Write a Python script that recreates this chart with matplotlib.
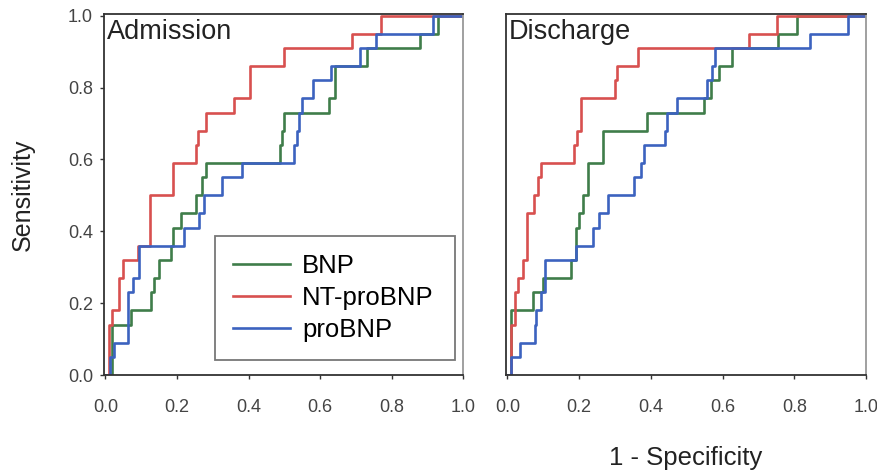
import matplotlib
matplotlib.use('Agg')
import matplotlib.pyplot as plt

# ROC step points (1 - specificity, sensitivity) for each marker
adm_bnp_fpr = [0, 0.017, 0.072, 0.128, 0.135, 0.15, 0.184, 0.19, 0.21, 0.254, 0.27, 0.28,
               0.487, 0.493, 0.50, 0.625, 0.643, 0.73, 0.88, 0.93, 1.0]
adm_bnp_tpr = [0, 0.14, 0.18, 0.23, 0.27, 0.32, 0.36, 0.41, 0.45, 0.5, 0.55, 0.59,
               0.64, 0.68, 0.73, 0.77, 0.86, 0.91, 0.95, 1.0, 1.0]

adm_nt_fpr = [0, 0.01, 0.017, 0.038, 0.05, 0.09, 0.125, 0.19, 0.254, 0.26, 0.28, 0.36,
              0.405, 0.50, 0.69, 0.77, 1.0]
adm_nt_tpr = [0, 0.14, 0.18, 0.27, 0.32, 0.36, 0.5, 0.59, 0.64, 0.68, 0.73, 0.77,
              0.86, 0.91, 0.95, 1.0, 1.0]

adm_pro_fpr = [0, 0.012, 0.025, 0.063, 0.077, 0.095, 0.22, 0.262, 0.275, 0.327, 0.383,
               0.527, 0.536, 0.54, 0.55, 0.58, 0.63, 0.713, 0.755, 0.917, 1.0]
adm_pro_tpr = [0, 0.05, 0.09, 0.23, 0.27, 0.36, 0.41, 0.45, 0.5, 0.55, 0.59,
               0.64, 0.68, 0.73, 0.77, 0.82, 0.86, 0.91, 0.95, 1.0, 1.0]

dis_bnp_fpr = [0, 0.01, 0.071, 0.10, 0.178, 0.19, 0.2, 0.21, 0.224, 0.266, 0.39,
               0.548, 0.567, 0.59, 0.627, 0.756, 0.807, 1.0]
dis_bnp_tpr = [0, 0.18, 0.23, 0.27, 0.32, 0.41, 0.45, 0.5, 0.59, 0.68, 0.73,
               0.77, 0.82, 0.86, 0.91, 0.95, 1.0, 1.0]

dis_nt_fpr = [0, 0.011, 0.02, 0.03, 0.044, 0.055, 0.075, 0.085, 0.094, 0.187, 0.195,
              0.205, 0.30, 0.307, 0.363, 0.673, 0.752, 1.0]
dis_nt_tpr = [0, 0.14, 0.23, 0.27, 0.32, 0.45, 0.5, 0.55, 0.59, 0.64, 0.68,
              0.77, 0.82, 0.86, 0.91, 0.95, 1.0, 1.0]

dis_pro_fpr = [0, 0.01, 0.034, 0.076, 0.08, 0.094, 0.104, 0.19, 0.238, 0.256, 0.28,
               0.354, 0.372, 0.381, 0.44, 0.446, 0.474, 0.557, 0.571, 0.58, 0.844, 0.95, 1.0]
dis_pro_tpr = [0, 0.05, 0.09, 0.14, 0.18, 0.23, 0.32, 0.36, 0.41, 0.45, 0.5,
               0.55, 0.59, 0.64, 0.68, 0.73, 0.77, 0.82, 0.86, 0.91, 0.95, 1.0, 1.0]

labels = ['BNP', 'NT-proBNP', 'proBNP']
colors = ['#3f7d4a', '#d8504f', '#3c62bf']
ticks = [0.0, 0.2, 0.4, 0.6, 0.8, 1.0]
tick_labels = ['0.0', '0.2', '0.4', '0.6', '0.8', '1.0']

plt.rcParams['font.family'] = ['Liberation Sans', 'DejaVu Sans']

fig = plt.figure(figsize=(8.78, 4.72), dpi=100)
ax1 = fig.add_axes([0.1185, 0.2055, 0.409, 0.765])
ax2 = fig.add_axes([0.5763, 0.2055, 0.41, 0.765])

panels = [
    (ax1, 'Admission', [(adm_bnp_fpr, adm_bnp_tpr), (adm_nt_fpr, adm_nt_tpr), (adm_pro_fpr, adm_pro_tpr)]),
    (ax2, 'Discharge', [(dis_bnp_fpr, dis_bnp_tpr), (dis_nt_fpr, dis_nt_tpr), (dis_pro_fpr, dis_pro_tpr)]),
]

for ax, name, curves in panels:
    for (fpr, tpr), lab, col in zip(curves, labels, colors):
        ax.step(fpr, tpr, where='post', color=col, lw=1.9, label=lab)
    ax.set_xlim(-0.004, 1.0)
    ax.set_ylim(0.0, 1.005)
    ax.set_xticks(ticks)
    ax.set_xticklabels(tick_labels, fontsize=13, color='#444444')
    ax.tick_params(axis='x', direction='out', length=3, width=1, pad=14, color='#333333')
    ax.text(0.008, 0.985, name, transform=ax.transAxes, ha='left', va='top',
            fontsize=19.5, color='#222222')
    for side in ['left', 'bottom', 'top']:
        ax.spines[side].set_color('#333333')
        ax.spines[side].set_linewidth(1.3)
    ax.spines['right'].set_color('#999999')
    ax.spines['right'].set_linewidth(1.3)

ax1.set_yticks(ticks)
ax1.set_yticklabels(tick_labels, fontsize=13, color='#444444')
ax1.tick_params(axis='y', direction='out', length=3, width=1, pad=5, color='#333333')
ax2.set_yticks([])

ax1.set_ylabel('Sensitivity', fontsize=18, color='#222222', labelpad=24)
ax2.set_xlabel('1 - Specificity', fontsize=18.5, color='#222222', labelpad=22)

leg = ax1.legend(loc='lower left', bbox_to_anchor=(0.309, 0.042, 0.669, 0.354),
                 mode='expand', fontsize=18.5, frameon=True, fancybox=False,
                 handlelength=2.2, handletextpad=0.5, labelspacing=0.3,
                 borderpad=0.7, borderaxespad=0)
leg.get_frame().set_edgecolor('#555555')
leg.get_frame().set_linewidth(1.3)

plt.savefig('out.png', dpi=100)
